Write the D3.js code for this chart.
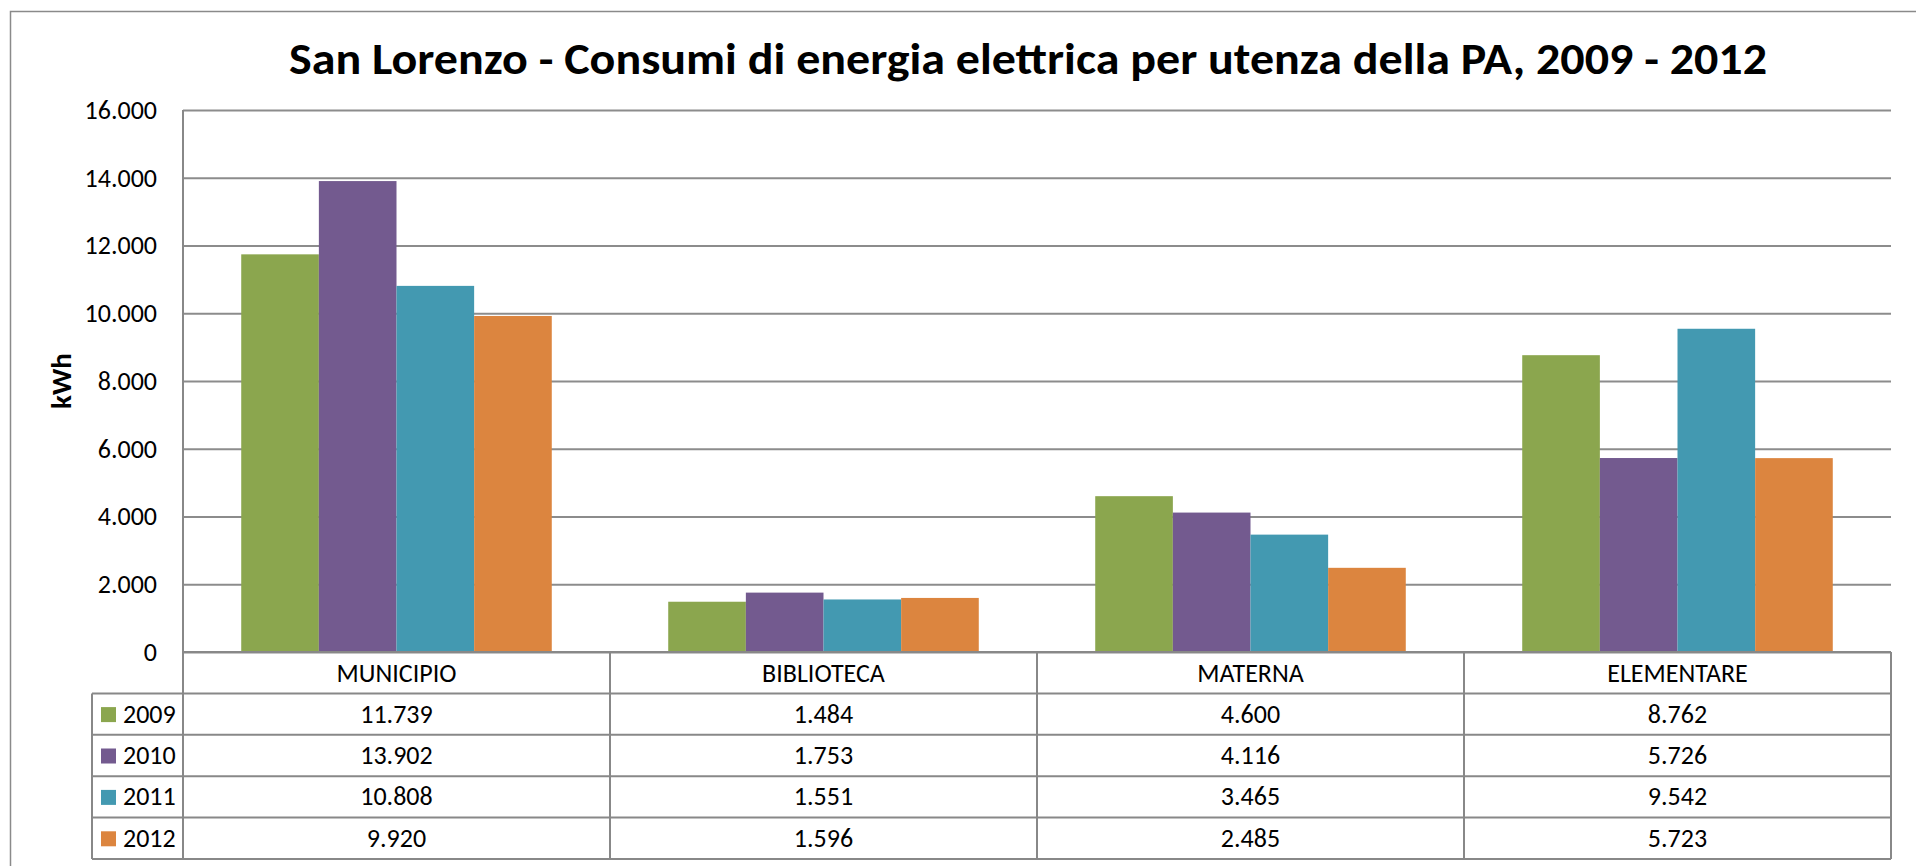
<!DOCTYPE html>
<html>
<head>
<meta charset="utf-8">
<script src="https://cdn.jsdelivr.net/npm/d3@7"></script>
<style>
	body { margin: 0; background: #fff; }
	svg text { font-family: Carlito, Calibri, Lato, sans-serif; fill: #000; }
</style>
</head>
<body>
<div id="chart"></div>
<script>
var categories	= ["MUNICIPIO", "BIBLIOTECA", "MATERNA", "ELEMENTARE"];
var years		= ["2009", "2010", "2011", "2012"];
var v2009		= [11739, 1484, 4600, 8762];
var v2010		= [13902, 1753, 4116, 5726];
var v2011		= [10808, 1551, 3465, 9542];
var v2012		= [9920, 1596, 2485, 5723];
var yTicks		= [0, 2000, 4000, 6000, 8000, 10000, 12000, 14000, 16000];
var colors		= ["#8BA64E", "#735A8F", "#4399B1", "#DC853F"];

var series = [v2009, v2010, v2011, v2012];

var width	= 1916,
	height	= 866,
	plotLeft	= 183,
	plotRight	= 1891,
	plotTop		= 110,
	plotBottom	= 652,
	legLeft		= 92,
	tableBottom = 859,
	fontSize	= 26,
	lineCol	= "#888888";

// italian number format, 11.739
var it = d3.formatLocale({decimal: ",", thousands: ".", grouping: [3], currency: ["", " €"]});
var fmt = it.format(",");

var svg = d3.select("#chart").append("svg")
	.attr("width", width)
	.attr("height", height);

// outer chart frame (only left and top edges are in view)
svg.append("path")
	.attr("d", "M10.5," + height + "V11.5H" + width)
	.attr("fill", "none")
	.attr("stroke", "#8a8a8a")
	.attr("stroke-width", 1.5);

svg.append("text")
	.attr("x", 289)
	.attr("y", 74)
	.attr("font-size", 45)
	.attr("font-weight", "bold")
	.attr("textLength", 1478)
	.attr("lengthAdjust", "spacingAndGlyphs")
	.text("San Lorenzo - Consumi di energia elettrica per utenza della PA, 2009 - 2012");

var x = d3.scaleBand().domain(categories).range([plotLeft, plotRight]);
var xs = d3.scaleBand().domain(years).range([0, x.bandwidth()]).paddingInner(0).paddingOuter(0.75);
var y = d3.scaleLinear().domain([0, 16000]).range([plotBottom, plotTop]);

// gridlines + tick labels
var yAxis = svg.append("g")
	.attr("transform", "translate(" + plotLeft + ",0)")
	.call(d3.axisLeft(y).tickValues(yTicks).tickFormat(fmt).tickSize(-(plotRight - plotLeft)).tickPadding(26));
yAxis.select(".domain").remove();
yAxis.selectAll(".tick line").attr("stroke", "#8c8c8c").attr("stroke-width", 2);
yAxis.selectAll(".tick text").attr("font-size", fontSize).attr("fill", "#000").attr("font-family", "Carlito, Calibri, Lato, sans-serif");

svg.append("text")
	.attr("transform", "translate(61," + ((plotTop + plotBottom) / 2) + ")rotate(-90)")
	.attr("text-anchor", "middle")
	.attr("dy", "0.35em")
	.attr("font-size", 29)
	.attr("font-weight", "bold")
	.text("kWh");

// bars
var groups = svg.selectAll(".cat")
	.data(categories)
	.enter().append("g")
	.attr("class", "cat")
	.attr("transform", function(d) { return "translate(" + x(d) + ",0)"; });

groups.selectAll("rect")
	.data(function(d, i) { return years.map(function(yr, j) { return {year: yr, value: series[j][i], c: colors[j]}; }); })
	.enter().append("rect")
	.attr("x", function(d) { return xs(d.year); })
	.attr("width", xs.bandwidth())
	.attr("y", function(d) { return y(d.value); })
	.attr("height", function(d) { return plotBottom - y(d.value); })
	.attr("fill", function(d) { return d.c; });

// data table under the plot
var rows = d3.scaleBand().domain(["cat"].concat(years)).range([plotBottom, tableBottom]);
var rh = rows.bandwidth();

var table = svg.append("g").attr("class", "table");

// horizontal rules
table.selectAll(".hrule")
	.data(["cat"].concat(years).concat(["end"]))
	.enter().append("line")
	.attr("x1", function(d) { return d == "cat" ? plotLeft : legLeft; })
	.attr("x2", plotRight)
	.attr("y1", function(d) { return d == "end" ? tableBottom : rows(d); })
	.attr("y2", function(d) { return d == "end" ? tableBottom : rows(d); })
	.attr("stroke", lineCol)
	.attr("stroke-width", 2);

// vertical rules
table.selectAll(".vrule")
	.data(categories.concat(["end"]))
	.enter().append("line")
	.attr("x1", function(d) { return d == "end" ? plotRight : x(d); })
	.attr("x2", function(d) { return d == "end" ? plotRight : x(d); })
	.attr("y1", function(d, i) { return i == 0 ? plotTop : plotBottom; })
	.attr("y2", tableBottom)
	.attr("stroke", lineCol)
	.attr("stroke-width", 2);

table.append("line")
	.attr("x1", legLeft).attr("x2", legLeft)
	.attr("y1", rows(years[0])).attr("y2", tableBottom)
	.attr("stroke", lineCol)
	.attr("stroke-width", 2);

// category names
table.selectAll(".catname")
	.data(categories)
	.enter().append("text")
	.attr("x", function(d) { return x(d) + x.bandwidth() / 2; })
	.attr("y", rows("cat") + rh / 2 + 9)
	.attr("text-anchor", "middle")
	.attr("font-size", fontSize)
	.text(function(d) { return d; });

// legend keys
var keys = table.selectAll(".key")
	.data(years)
	.enter().append("g")
	.attr("transform", function(d) { return "translate(0," + (rows(d) + rh / 2) + ")"; });

keys.append("rect")
	.attr("x", 101)
	.attr("y", -7)
	.attr("width", 15)
	.attr("height", 15)
	.attr("fill", function(d, i) { return colors[i]; });

keys.append("text")
	.attr("x", 123)
	.attr("y", 8.5)
	.attr("font-size", fontSize)
	.text(function(d) { return d; });

// values
series.forEach(function(vals, j)
{
	table.selectAll(".val" + j)
		.data(vals)
		.enter().append("text")
		.attr("x", function(d, i) { return x(categories[i]) + x.bandwidth() / 2; })
		.attr("y", rows(years[j]) + rh / 2 + 8.5)
		.attr("text-anchor", "middle")
		.attr("font-size", fontSize)
		.text(function(d) { return fmt(d); });
});
</script>
</body>
</html>
